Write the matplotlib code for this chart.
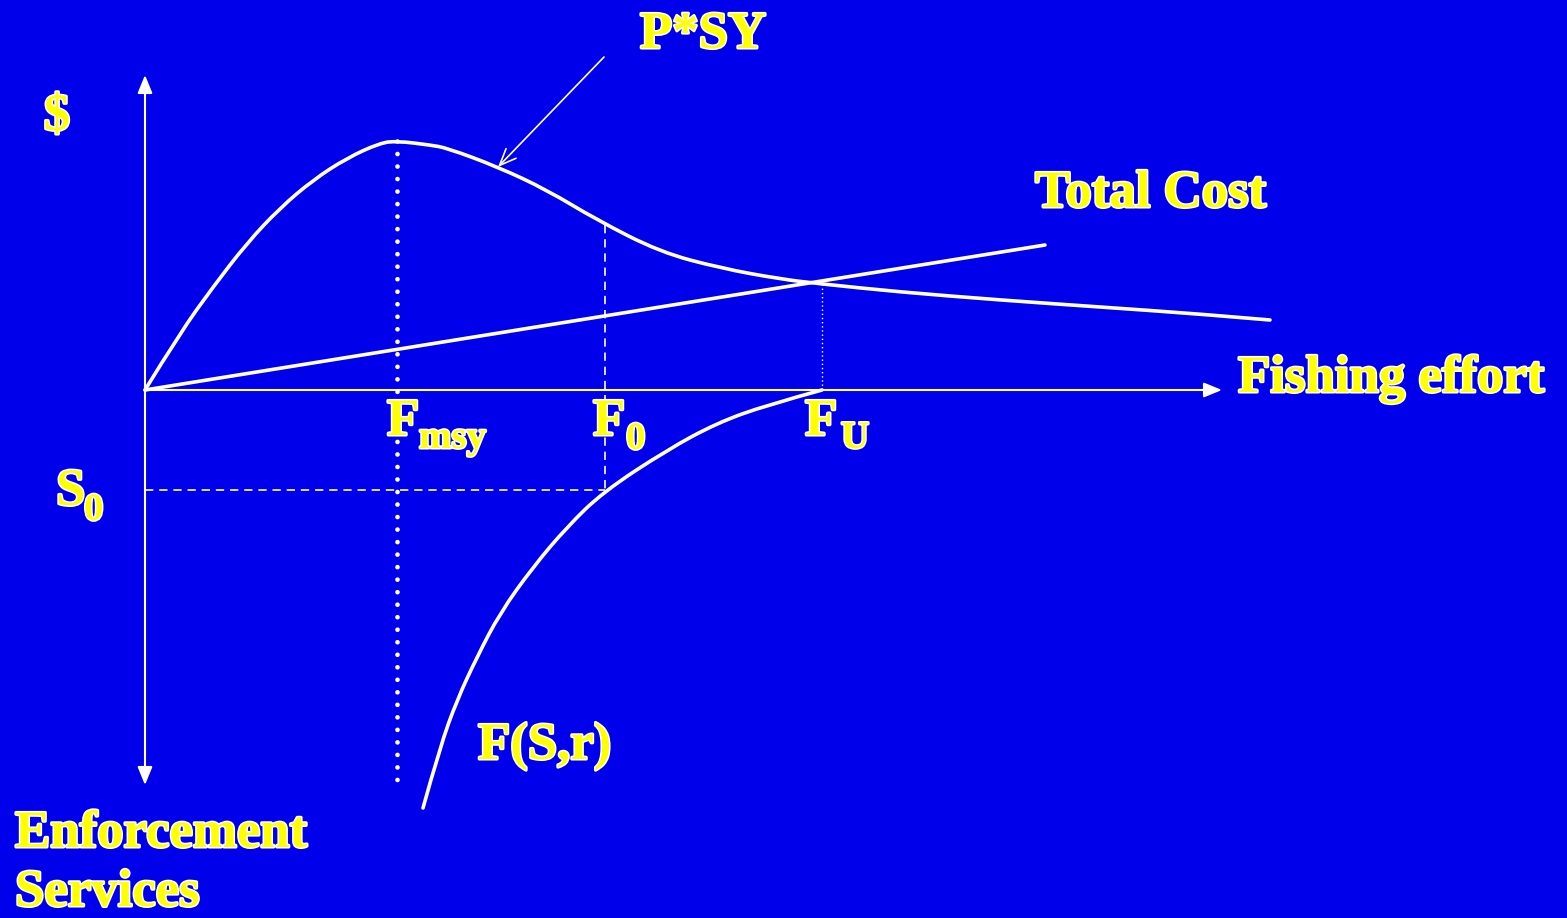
import numpy as np
import matplotlib.pyplot as plt
import matplotlib.patheffects as pe
from matplotlib.path import Path
from matplotlib.patches import PathPatch

# effort (x) and value (y), origin at axes crossing
psy_effort = [0, 0.35, 0.68, 1.02, 1.35, 1.68, 2.02, 2.35, 2.52, 2.85, 3.02, 3.53, 4.02, 4.52, 5.15, 5.75, 6.35, 6.77, 7.55, 8.55, 9.55, 10.55, 11.25]
psy_value = [0, 0.57, 1.03, 1.47, 1.82, 2.10, 2.32, 2.47, 2.49, 2.45, 2.42, 2.23, 2.00, 1.70, 1.38, 1.22, 1.11, 1.06, 0.98, 0.90, 0.83, 0.76, 0.70]

cost_effort = [0, 9.0]
cost_value = [0, 1.45]

fsr_effort = [6.77, 6.22, 5.72, 5.22, 4.58, 4.22, 3.88, 3.55, 3.32, 3.12, 2.95, 2.78]
fsr_value = [0, -0.15, -0.33, -0.60, -1.02, -1.37, -1.77, -2.23, -2.67, -3.10, -3.57, -4.18]

f_msy, f_0, f_u = 2.52, 4.60, 6.77
s_0 = -1.00

bg = '#0000EA'
yellow = '#FFFF00'
fx = [pe.withStroke(linewidth=2.2, foreground='white')]


def smooth_path(xs, ys):
    # quadratic bezier through midpoints, points act as control points
    p = np.column_stack([xs, ys])
    verts = [p[0]]
    codes = [Path.MOVETO]
    for i in range(1, len(p) - 1):
        end = p[i + 1] if i == len(p) - 2 else (p[i] + p[i + 1]) / 2
        verts += [p[i], end]
        codes += [Path.CURVE3, Path.CURVE3]
    if len(p) == 2:
        verts.append(p[1])
        codes.append(Path.LINETO)
    return Path(verts, codes)


fig = plt.figure(figsize=(15.67, 9.18), dpi=100, facecolor=bg)
ax = fig.add_axes([0, 0, 1, 1])
ax.set_facecolor(bg)
ax.set_xlim(-1.45, 14.22)
ax.set_ylim(-5.28, 3.90)
ax.axis('off')

lw = 2.6
for xs, ys in [(psy_effort, psy_value), (fsr_effort, fsr_value)]:
    ax.add_patch(PathPatch(smooth_path(xs, ys), facecolor='none', edgecolor='white', lw=lw, capstyle='round'))
ax.plot(cost_effort, cost_value, color='white', lw=lw, solid_capstyle='round')

# axes arrows
ax.annotate('', xy=(10.77, 0), xytext=(0, 0),
            arrowprops=dict(arrowstyle='-|>,head_length=1.1,head_width=0.45', color='white', lw=1.5, shrinkA=0, shrinkB=0))
ax.annotate('', xy=(0, 3.15), xytext=(0, -3.95),
            arrowprops=dict(arrowstyle='<|-|>,head_length=1.1,head_width=0.45', color='white', lw=1.5, shrinkA=0, shrinkB=0))

# reference lines
ax.plot([f_msy, f_msy], [2.49, -3.90], color='white', lw=3.4, linestyle=(0, (0.001, 2.65)), dash_capstyle='round')
ax.plot([f_0, f_0], [1.65, s_0], color='white', lw=1.2, linestyle=(0, (5, 3.5)))
ax.plot([0, f_0], [s_0, s_0], color='white', lw=1.2, linestyle=(0, (5, 3.5)))
ax.plot([f_u, f_u], [1.06, 0], color='white', lw=1.0, linestyle=(0, (1, 2)))

# P*SY pointer
ax.annotate('', xy=(3.53, 2.23), xytext=(4.59, 3.33),
            arrowprops=dict(arrowstyle='->,head_length=1.2,head_width=0.5', color='white', lw=1.2, shrinkA=0, shrinkB=0))

tkw = dict(family='Liberation Serif', fontweight='bold', color=yellow, path_effects=fx, va='baseline', ha='left')
big, small = 38, 28
ax.text(4.95, 3.42, 'P*SY', fontsize=big, **tkw)
ax.text(-0.88, 2.73, '$', fontsize=big, color=yellow, family='Liberation Serif', fontweight='bold',
        path_effects=fx, ha='center', va='center')
ax.text(8.90, 1.83, 'Total Cost', fontsize=big, **tkw)
ax.text(10.93, -0.02, 'Fishing effort', fontsize=big, **tkw)
ax.text(2.42, -0.45, 'F', fontsize=big, **tkw)
ax.text(2.74, -0.58, 'msy', fontsize=small, **tkw)
ax.text(4.48, -0.45, 'F', fontsize=big, **tkw)
ax.text(4.81, -0.59, '0', fontsize=small, **tkw)
ax.text(6.60, -0.45, 'F', fontsize=big, **tkw)
ax.text(6.96, -0.58, 'U', fontsize=small, **tkw)
ax.text(-0.89, -1.15, 'S', fontsize=big, **tkw)
ax.text(-0.61, -1.30, '0', fontsize=small, **tkw)
ax.text(3.33, -3.69, 'F(S,r)', fontsize=big, **tkw)
ax.text(-1.30, -4.57, 'Enforcement', fontsize=big, **tkw)
ax.text(-1.30, -5.16, 'Services', fontsize=big, **tkw)

fig.savefig('out.png', dpi=100, facecolor=bg)
